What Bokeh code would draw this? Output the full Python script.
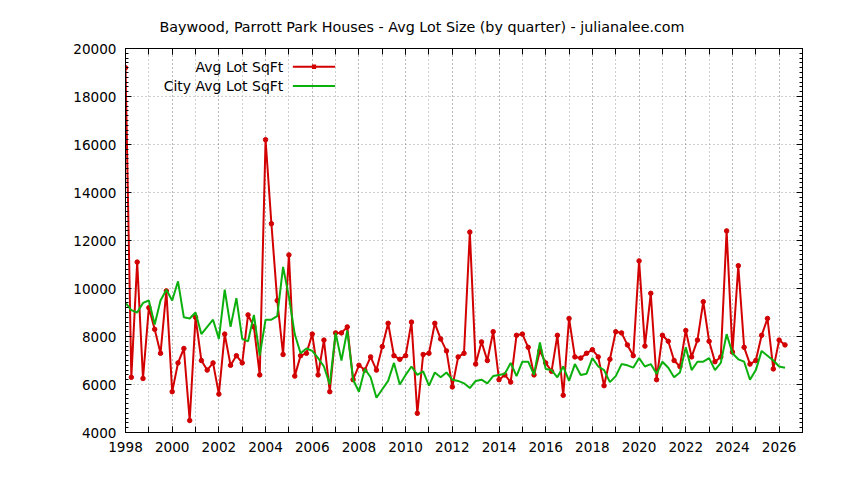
from bokeh.plotting import figure
from bokeh.models import (Range1d, SingleIntervalTicker, LinearAxis, CustomJSTickFormatter,
                          Label, Arrow, BoxAnnotation, ColumnDataSource)
from bokeh.embed import file_html
from bokeh.resources import INLINE

start_year = 1998

avg_lot_sqft = [
    19200, 6300, 11100, 6250, 9200, 8300, 7300, 9900,
    5700, 6900, 7500, 4500, 8800, 7000, 6600, 6900,
    5600, 8100, 6800, 7200, 6900, 8900, 8400, 6400,
    16200, 12700, 9500, 7250, 11400, 6350, 7200, 7300,
    8100, 6400, 7850, 5700, 8150, 8150, 8400, 6200,
    6800, 6600, 7150, 6600, 7580, 8550, 7200, 7050,
    7200, 8600, 4800, 7250, 7300, 8550, 7900, 7400,
    5900, 7150, 7300, 12350, 6850, 7775, 7000, 8200,
    6200, 6400, 6100, 8050, 8100, 7550, 6400, 7400,
    6900, 6550, 8050, 5550, 8750, 7150, 7100, 7300,
    7450, 7150, 5950, 7050, 8200, 8150, 7650, 7200,
    11150, 7600, 9800, 6200, 8050, 7800, 7000, 6750,
    8250, 7150, 7850, 9450, 7800, 6950, 7150, 12400,
    7350, 10950, 7550, 6850, 7000, 8050, 8750, 6650,
    7850, 7650,
]

city_avg_lot_sqft = [
    9400, 9100, 9000, 9400, 9500, 8500, 9500, 9950,
    9500, 10300, 8800, 8750, 9000, 8100, 8400, 8700,
    7900, 9950, 8400, 9600, 7900, 7800, 8900, 7200,
    8700, 8700, 8850, 10900, 9650, 8100, 7300, 7500,
    7400, 7100, 6750, 6000, 8150, 7000, 8250, 6200,
    5700, 6650, 6300, 5450, 5800, 6150, 6900, 6000,
    6400, 6750, 6400, 6550, 5950, 6500, 6300, 6500,
    6200, 6150, 6050, 5850, 6150, 6200, 6050, 6350,
    6400, 6450, 6900, 6350, 6950, 6950, 6400, 7750,
    6650, 6600, 6300, 6750, 6150, 6850, 6400, 6450,
    7100, 6750, 6600, 6100, 6350, 6850, 6800, 6700,
    7100, 6750, 6850, 6450, 6950, 6700, 6300, 6500,
    7550, 6600, 6950, 6950, 7100, 6600, 6900, 8100,
    7300, 7050, 6950, 6200, 6600, 7400, 7200, 7000,
    6750, 6700,
]

quarters = [start_year + i * 0.25 for i in range(len(avg_lot_sqft))]

series_names = ["Avg Lot SqFt", "City Avg Lot SqFt"]
title_text = "Baywood, Parrott Park Houses - Avg Lot Size (by quarter) - julianalee.com"

RED = "#d20000"
GREEN = "#0cb00c"
FONT = "DejaVu Sans"
GRID = "#a0a0a0"

src = ColumnDataSource(dict(x=quarters, avg=avg_lot_sqft, city=city_avg_lot_sqft))

p = figure(width=836, height=472, output_backend="svg", toolbar_location=None,
           x_range=Range1d(1998, 2027), y_range=Range1d(4000, 20000),
           min_border_left=125, min_border_right=34, min_border_top=48, min_border_bottom=40)

p.background_fill_color = "white"
p.border_fill_color = "white"
p.outline_line_color = "black"

p.title.text = title_text
p.title.text_font = FONT
p.title.text_font_size = "14.3px"
p.title.text_font_style = "normal"
p.title.text_color = "black"
p.title.align = "left"
p.title.offset = 34
p.title.standoff = 28

xticker = SingleIntervalTicker(interval=2, num_minor_ticks=2)
yticker = SingleIntervalTicker(interval=2000, num_minor_ticks=10)

xax = p.xaxis[0]
xax.ticker = xticker
yax = p.yaxis[0]
yax.ticker = yticker

for ax in (xax, yax):
    ax.major_tick_out = 0
    ax.minor_tick_out = 0
    ax.major_tick_in = 6
    ax.axis_line_color = "black"
    ax.major_tick_line_color = "black"
    ax.minor_tick_line_color = "black"
    ax.major_label_text_font = FONT
    ax.major_label_text_font_size = "13.6px"
    ax.major_label_text_color = "black"
xax.minor_tick_in = 6
yax.minor_tick_in = 3
xax.major_label_standoff = 9
yax.major_label_standoff = 9

blank = CustomJSTickFormatter(code="return '';")
top = LinearAxis(ticker=xticker, formatter=blank, major_label_standoff=0,
                 major_tick_in=6, major_tick_out=0, minor_tick_in=6, minor_tick_out=0)
right = LinearAxis(ticker=yticker, formatter=blank, major_label_standoff=0,
                   major_tick_in=6, major_tick_out=0, minor_tick_in=3, minor_tick_out=0)
p.add_layout(top, "above")
p.add_layout(right, "right")

p.xgrid.grid_line_color = GRID
p.xgrid.grid_line_dash = "1 3"
p.xgrid.minor_grid_line_color = GRID
p.xgrid.minor_grid_line_dash = "1 3"
p.ygrid.grid_line_color = GRID
p.ygrid.grid_line_dash = "1 3"

p.line("x", "avg", source=src, line_color=RED, line_width=2)
p.scatter("x", "avg", source=src, marker="circle", size=4.5, color=RED)
p.line("x", "city", source=src, line_color=GREEN, line_width=2)

# gnuplot-style key: right-aligned text followed by a sample line
key_text_x = 2004.76
key_x0, key_x1 = 2005.17, 2006.98
key_rows = [19240, 18440]
key_colors = [RED, GREEN]
for name, ky, col in zip(series_names, key_rows, key_colors):
    p.add_layout(Label(x=key_text_x, y=ky, text=name, text_align="right",
                       text_baseline="middle", text_font=FONT, text_font_size="14px",
                       text_color="black"))
    p.add_layout(Arrow(start=None, end=None, x_start=key_x0, y_start=ky,
                       x_end=key_x1, y_end=ky, line_color=col, line_width=2))
mid = (key_x0 + key_x1) / 2
p.add_layout(BoxAnnotation(left=mid - 0.09, right=mid + 0.09,
                           bottom=key_rows[0] - 90, top=key_rows[0] + 90,
                           fill_color=RED, fill_alpha=1, line_color=None))

open("out.html", "w").write(file_html(p, INLINE))
